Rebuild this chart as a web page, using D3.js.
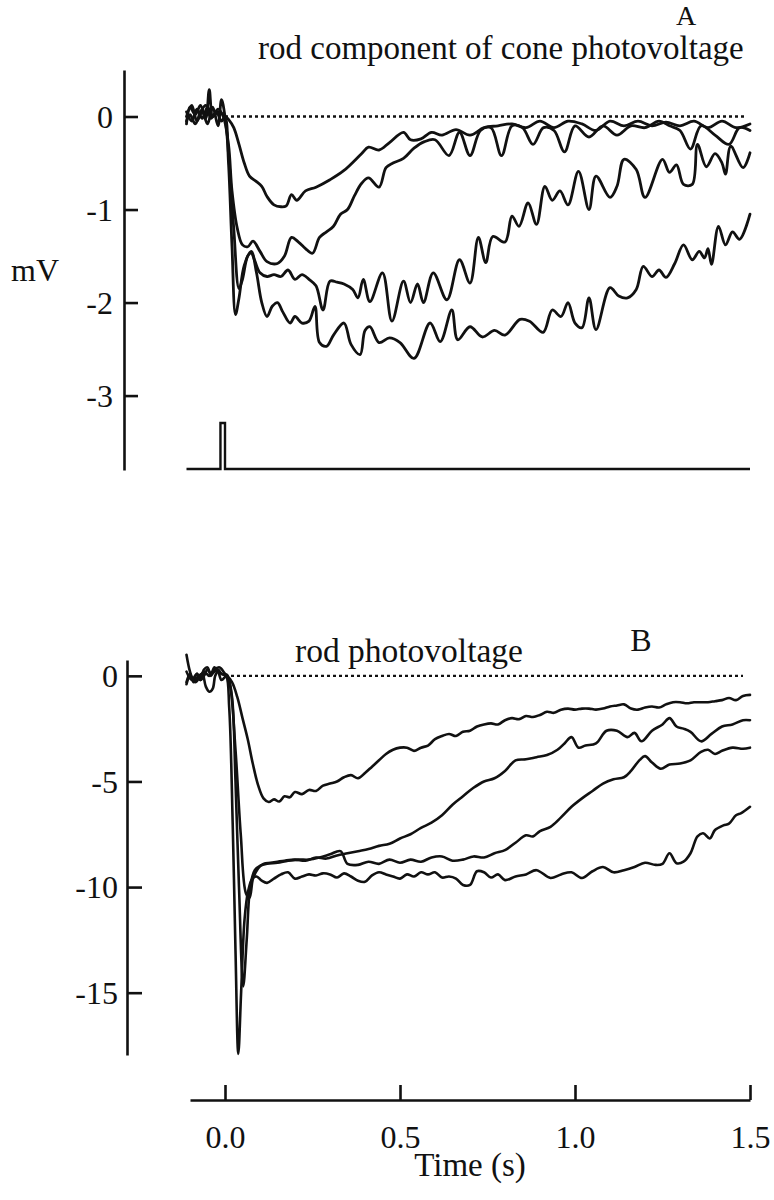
<!DOCTYPE html>
<html><head><meta charset="utf-8">
<script src="https://cdn.jsdelivr.net/npm/d3@7"></script>
<style>
html,body{margin:0;padding:0;background:#fff;}
text{font-family:"Liberation Serif","Times New Roman",serif;fill:#111;}
</style></head>
<body><svg id="c" width="774" height="1200"></svg>
<script>
// ---------- data ----------
const xTicks = [0, 0.5, 1.0, 1.5];
const xTickLabels = ["0.0", "0.5", "1.0", "1.5"];
const yTicksA = [0, -1, -2, -3];
const yTickLabelsA = ["0", "-1", "-2", "-3"];
const yTicksB = [0, -5, -10, -15];
const yTickLabelsB = ["0", "-5", "-10", "-15"];

// stimulus (flash) monitor: [time s, level]
const stimulus = [[-0.11,0],[-0.013,0],[-0.013,1],[0,1],[0,0],[1.5,0]];

// Panel A: rod component of cone photovoltage (mV)
const traceA1 = [[-0.11,0.05],[-0.095,-0.05],[-0.08,0.08],[-0.065,-0.02],[-0.05,0.1],[-0.035,0],[-0.02,0.05],[-0.005,0.02],[0.01,-0.03],[0.025,-0.12],[0.04,-0.3],[0.055,-0.5],[0.07,-0.64],[0.09,-0.7],[0.105,-0.75],[0.12,-0.86],[0.14,-0.95],[0.16,-0.97],[0.175,-0.96],[0.19,-0.84],[0.205,-0.9],[0.23,-0.8],[0.26,-0.76],[0.3,-0.68],[0.34,-0.58],[0.39,-0.4],[0.41,-0.33],[0.44,-0.36],[0.47,-0.28],[0.51,-0.17],[0.53,-0.25],[0.56,-0.24],[0.59,-0.17],[0.62,-0.2],[0.66,-0.14],[0.7,-0.2],[0.74,-0.12],[0.78,-0.1],[0.82,-0.08],[0.86,-0.12],[0.9,-0.05],[0.94,-0.12],[0.98,-0.05],[1.02,-0.08],[1.06,-0.15],[1.1,-0.05],[1.14,-0.1],[1.18,-0.05],[1.22,-0.1],[1.26,-0.06],[1.3,-0.1],[1.34,-0.05],[1.38,-0.12],[1.42,-0.05],[1.46,-0.12],[1.5,-0.08]];
const traceA2 = [[-0.11,-0.08],[-0.1,0.1],[-0.085,0.02],[-0.07,0.12],[-0.055,-0.02],[-0.045,0.29],[-0.035,0.0],[-0.02,0.08],[-0.005,0],[0.01,-0.3],[0.02,-0.8],[0.035,-1.2],[0.05,-1.38],[0.065,-1.4],[0.08,-1.34],[0.1,-1.45],[0.12,-1.56],[0.15,-1.58],[0.17,-1.5],[0.19,-1.3],[0.21,-1.35],[0.23,-1.42],[0.25,-1.47],[0.27,-1.3],[0.29,-1.24],[0.31,-1.18],[0.33,-1.05],[0.35,-1.0],[0.37,-0.85],[0.39,-0.72],[0.41,-0.66],[0.44,-0.76],[0.46,-0.55],[0.48,-0.5],[0.51,-0.45],[0.54,-0.34],[0.57,-0.27],[0.6,-0.25],[0.64,-0.42],[0.67,-0.17],[0.7,-0.42],[0.73,-0.15],[0.76,-0.12],[0.79,-0.42],[0.82,-0.1],[0.85,-0.12],[0.88,-0.3],[0.91,-0.12],[0.94,-0.15],[0.97,-0.38],[1.0,-0.1],[1.04,-0.22],[1.08,-0.1],[1.12,-0.2],[1.16,-0.1],[1.2,-0.12],[1.24,-0.05],[1.27,-0.1],[1.3,-0.15],[1.33,-0.35],[1.36,-0.1],[1.4,-0.2],[1.44,-0.3],[1.47,-0.12],[1.5,-0.15]];
const traceA3 = [[-0.11,0.0],[-0.095,0.12],[-0.08,-0.05],[-0.065,0.05],[-0.05,-0.08],[-0.035,0.1],[-0.02,-0.1],[-0.01,0.18],[0,0],[0.01,-0.4],[0.025,-1.2],[0.04,-1.85],[0.05,-1.75],[0.065,-1.5],[0.075,-1.47],[0.085,-1.55],[0.1,-1.68],[0.12,-1.72],[0.14,-1.7],[0.16,-1.72],[0.18,-1.65],[0.2,-1.75],[0.22,-1.7],[0.24,-1.75],[0.26,-1.82],[0.28,-2.08],[0.3,-1.77],[0.32,-1.78],[0.34,-1.8],[0.365,-1.86],[0.38,-1.95],[0.395,-1.75],[0.414,-1.99],[0.45,-1.68],[0.477,-2.2],[0.51,-1.77],[0.53,-2.0],[0.55,-1.8],[0.567,-2.0],[0.595,-1.68],[0.634,-1.97],[0.67,-1.54],[0.7,-1.79],[0.724,-1.3],[0.745,-1.57],[0.765,-1.29],[0.8,-1.35],[0.82,-1.07],[0.84,-1.18],[0.866,-0.93],[0.89,-1.16],[0.914,-0.75],[0.935,-0.9],[0.957,-0.8],[0.98,-0.95],[1.01,-0.59],[1.04,-1.0],[1.06,-0.64],[1.1,-0.87],[1.12,-0.75],[1.14,-0.46],[1.175,-0.57],[1.2,-0.87],[1.25,-0.46],[1.27,-0.6],[1.29,-0.52],[1.31,-0.73],[1.335,-0.73],[1.35,-0.3],[1.375,-0.54],[1.4,-0.4],[1.42,-0.5],[1.43,-0.62],[1.445,-0.32],[1.48,-0.55],[1.5,-0.39]];
const traceA4 = [[-0.11,-0.05],[-0.1,0.02],[-0.085,-0.08],[-0.07,0.05],[-0.055,0.12],[-0.04,-0.02],[-0.025,0.05],[-0.01,-0.05],[0,0],[0.01,-0.5],[0.02,-1.4],[0.03,-2.13],[0.04,-1.95],[0.055,-1.6],[0.075,-1.45],[0.09,-1.68],[0.105,-2.0],[0.12,-2.15],[0.135,-2.04],[0.15,-2.0],[0.165,-2.1],[0.186,-2.22],[0.2,-2.15],[0.22,-2.22],[0.24,-2.2],[0.257,-2.04],[0.27,-2.43],[0.29,-2.47],[0.31,-2.35],[0.34,-2.22],[0.36,-2.45],[0.386,-2.56],[0.4,-2.3],[0.414,-2.26],[0.44,-2.43],[0.47,-2.38],[0.5,-2.43],[0.54,-2.6],[0.586,-2.22],[0.615,-2.42],[0.648,-2.08],[0.665,-2.4],[0.7,-2.26],[0.735,-2.37],[0.77,-2.3],[0.8,-2.35],[0.843,-2.18],[0.87,-2.2],[0.909,-2.32],[0.935,-2.08],[0.96,-2.15],[0.98,-2.0],[1.0,-2.22],[1.02,-2.27],[1.04,-1.95],[1.06,-2.29],[1.1,-1.84],[1.125,-1.93],[1.15,-1.95],[1.175,-1.86],[1.195,-1.61],[1.22,-1.72],[1.24,-1.65],[1.26,-1.73],[1.285,-1.58],[1.31,-1.38],[1.335,-1.54],[1.355,-1.45],[1.37,-1.52],[1.38,-1.42],[1.39,-1.59],[1.41,-1.18],[1.43,-1.38],[1.45,-1.24],[1.47,-1.32],[1.5,-1.05]];

// Panel B: rod photovoltage (mV)
const traceB1 = [[-0.11,1.0],[-0.1,0.2],[-0.09,-0.2],[-0.08,0.1],[-0.07,-0.2],[-0.06,0.0],[-0.05,0.3],[-0.04,0.1],[-0.03,0.4],[-0.02,0.2],[-0.01,0.1],[0.005,0],[0.02,-0.3],[0.035,-1.0],[0.05,-2.0],[0.065,-3.0],[0.08,-4.2],[0.095,-5.2],[0.11,-5.8],[0.125,-5.97],[0.14,-5.85],[0.155,-5.95],[0.17,-5.7],[0.185,-5.75],[0.2,-5.5],[0.22,-5.6],[0.24,-5.4],[0.26,-5.45],[0.28,-5.2],[0.3,-5.1],[0.32,-5.0],[0.34,-4.8],[0.36,-4.7],[0.38,-4.85],[0.4,-4.6],[0.42,-4.3],[0.44,-4.0],[0.46,-3.7],[0.48,-3.5],[0.5,-3.4],[0.52,-3.4],[0.54,-3.55],[0.56,-3.4],[0.58,-3.3],[0.6,-3.0],[0.62,-2.85],[0.64,-2.75],[0.66,-2.85],[0.68,-2.65],[0.7,-2.6],[0.72,-2.4],[0.74,-2.3],[0.76,-2.25],[0.78,-2.3],[0.8,-2.1],[0.82,-2.0],[0.84,-2.05],[0.86,-1.9],[0.88,-1.95],[0.9,-1.85],[0.92,-1.7],[0.94,-1.75],[0.96,-1.6],[0.98,-1.55],[1.0,-1.6],[1.02,-1.55],[1.04,-1.55],[1.06,-1.6],[1.08,-1.55],[1.1,-1.45],[1.12,-1.4],[1.14,-1.35],[1.16,-1.55],[1.18,-1.6],[1.2,-1.5],[1.22,-1.45],[1.24,-1.5],[1.26,-1.35],[1.28,-1.25],[1.3,-1.25],[1.32,-1.3],[1.34,-1.25],[1.36,-1.25],[1.38,-1.25],[1.4,-1.2],[1.42,-1.15],[1.44,-1.05],[1.46,-1.15],[1.48,-0.95],[1.5,-0.9]];
const traceB2 = [[-0.11,-0.3],[-0.1,0.1],[-0.09,-0.3],[-0.08,-0.1],[-0.065,0.1],[-0.055,-0.5],[-0.045,-0.75],[-0.035,-0.6],[-0.028,0.0],[-0.02,0.2],[-0.01,-0.2],[0.005,0],[0.015,-0.5],[0.03,-3.5],[0.045,-7.5],[0.06,-10.3],[0.07,-10.5],[0.08,-9.6],[0.095,-9.1],[0.11,-8.9],[0.13,-8.85],[0.15,-8.8],[0.17,-8.75],[0.2,-8.7],[0.23,-8.75],[0.26,-8.6],[0.29,-8.65],[0.32,-8.5],[0.35,-8.4],[0.38,-8.3],[0.41,-8.2],[0.44,-8.05],[0.47,-7.95],[0.5,-7.7],[0.53,-7.5],[0.56,-7.2],[0.59,-6.95],[0.62,-6.6],[0.65,-6.1],[0.68,-5.7],[0.71,-5.3],[0.74,-5.0],[0.77,-4.85],[0.8,-4.5],[0.83,-4.0],[0.86,-3.95],[0.89,-3.85],[0.92,-3.75],[0.95,-3.5],[0.97,-3.2],[0.99,-2.9],[1.01,-3.4],[1.03,-3.3],[1.06,-3.2],[1.09,-2.6],[1.12,-2.6],[1.15,-2.9],[1.17,-2.7],[1.19,-3.1],[1.22,-2.6],[1.25,-2.3],[1.27,-2.0],[1.29,-2.4],[1.31,-2.5],[1.33,-2.65],[1.36,-3.1],[1.39,-2.75],[1.42,-2.4],[1.45,-2.3],[1.48,-2.1],[1.5,-2.1]];
const traceB3 = [[-0.11,0.2],[-0.095,-0.2],[-0.08,0.1],[-0.07,-0.2],[-0.06,0.3],[-0.05,0.4],[-0.04,0.0],[-0.03,0.3],[-0.015,0.4],[0,0.1],[0.008,0],[0.02,-1.0],[0.03,-5.0],[0.04,-10.0],[0.052,-14.7],[0.062,-12.5],[0.072,-10.0],[0.085,-9.2],[0.1,-9.0],[0.12,-8.9],[0.15,-8.85],[0.18,-8.75],[0.21,-8.7],[0.24,-8.7],[0.27,-8.6],[0.3,-8.45],[0.33,-8.3],[0.35,-8.9],[0.38,-8.95],[0.41,-8.8],[0.44,-8.9],[0.47,-8.7],[0.5,-8.85],[0.53,-8.7],[0.56,-8.8],[0.59,-8.6],[0.62,-8.55],[0.65,-8.75],[0.68,-8.7],[0.71,-8.55],[0.74,-8.6],[0.77,-8.4],[0.8,-8.25],[0.83,-7.9],[0.86,-7.55],[0.88,-7.6],[0.9,-7.35],[0.93,-7.15],[0.96,-6.7],[0.99,-6.2],[1.02,-5.8],[1.05,-5.45],[1.08,-5.1],[1.11,-4.9],[1.14,-4.8],[1.16,-4.5],[1.185,-3.98],[1.2,-3.8],[1.22,-4.1],[1.245,-4.4],[1.27,-4.2],[1.3,-4.15],[1.33,-4.0],[1.36,-3.6],[1.38,-3.5],[1.4,-3.7],[1.42,-3.55],[1.45,-3.4],[1.48,-3.45],[1.5,-3.4]];
const traceB4 = [[-0.11,-0.4],[-0.1,0.0],[-0.085,-0.3],[-0.07,0.0],[-0.06,0.2],[-0.045,0.0],[-0.03,0.2],[-0.02,0.3],[-0.01,0.1],[0.003,0],[0.012,-1.5],[0.022,-7.0],[0.03,-13.0],[0.038,-17.9],[0.046,-15.0],[0.056,-11.5],[0.066,-10.2],[0.078,-9.6],[0.09,-9.5],[0.105,-9.7],[0.12,-9.8],[0.14,-9.6],[0.16,-9.4],[0.18,-9.3],[0.2,-9.6],[0.22,-9.5],[0.24,-9.4],[0.26,-9.45],[0.28,-9.35],[0.3,-9.4],[0.32,-9.55],[0.34,-9.35],[0.36,-9.5],[0.38,-9.7],[0.4,-9.75],[0.42,-9.45],[0.44,-9.3],[0.46,-9.4],[0.48,-9.5],[0.5,-9.6],[0.52,-9.4],[0.54,-9.5],[0.56,-9.3],[0.58,-9.4],[0.6,-9.3],[0.62,-9.55],[0.64,-9.5],[0.66,-9.6],[0.68,-9.9],[0.7,-9.9],[0.72,-9.25],[0.74,-9.3],[0.76,-9.55],[0.78,-9.4],[0.8,-9.67],[0.83,-9.5],[0.86,-9.4],[0.89,-9.2],[0.93,-9.57],[0.96,-9.4],[0.99,-9.3],[1.02,-9.57],[1.05,-9.25],[1.08,-9.05],[1.11,-9.3],[1.14,-9.2],[1.17,-9.05],[1.2,-8.85],[1.23,-8.95],[1.25,-8.9],[1.27,-8.4],[1.29,-8.87],[1.31,-8.8],[1.33,-8.4],[1.35,-7.6],[1.366,-7.45],[1.385,-7.7],[1.4,-7.3],[1.424,-7.08],[1.44,-7.0],[1.46,-6.6],[1.475,-6.5],[1.5,-6.2]];

const tracesA = [traceA1, traceA2, traceA3, traceA4];
const tracesB = [traceB1, traceB2, traceB3, traceB4];

// ---------- drawing ----------
const svg = d3.select("#c");
const x = d3.scaleLinear().domain([-0.1, 1.5]).range([190, 750]);
const yA = d3.scaleLinear().domain([0.5, -3.8]).range([70, 470]);
const yB = d3.scaleLinear().domain([0.75, -17.95]).range([660, 1055]);
const yS = d3.scaleLinear().domain([0, 1]).range([469, 423]);

function styleAxis(g) {
  g.selectAll("path,line").attr("stroke", "#111").attr("stroke-width", 2.6);
  g.selectAll("text").attr("font-size", 32).attr("font-family", '"Liberation Serif",serif').attr("fill", "#111");
}

// Panel A axis
const axA = svg.append("g").attr("transform", "translate(124,0)")
  .call(d3.axisLeft(yA).tickValues(yTicksA).tickFormat((d, i) => yTickLabelsA[i])
    .tickSizeInner(-14).tickSizeOuter(0).tickPadding(11));
styleAxis(axA);
axA.selectAll("text").attr("dy", "0.34em");

// Panel B axis
const axB = svg.append("g").attr("transform", "translate(127,0)")
  .call(d3.axisLeft(yB).tickValues(yTicksB).tickFormat((d, i) => yTickLabelsB[i])
    .tickSizeInner(-15).tickSizeOuter(0).tickPadding(9));
styleAxis(axB);
axB.selectAll("text").attr("dy", "0.34em");

// X axis
const axX = svg.append("g").attr("transform", "translate(0,1100)")
  .call(d3.axisBottom(x).tickValues(xTicks).tickFormat((d, i) => xTickLabels[i])
    .tickSizeInner(-15).tickSizeOuter(0).tickPadding(25));
styleAxis(axX);

// dotted zero lines
svg.append("line").attr("x1", x(0)).attr("x2", x(1.49)).attr("y1", yA(0)).attr("y2", yA(0))
  .attr("stroke", "#111").attr("stroke-width", 2.4).attr("stroke-dasharray", "3,3");
svg.append("line").attr("x1", x(0)).attr("x2", x(1.48)).attr("y1", yB(0)).attr("y2", yB(0))
  .attr("stroke", "#111").attr("stroke-width", 2.4).attr("stroke-dasharray", "3,3");

const curve = d3.curveCatmullRom.alpha(0.5);
const lineA = d3.line().x(d => x(d[0])).y(d => yA(d[1])).curve(curve);
const lineB = d3.line().x(d => x(d[0])).y(d => yB(d[1])).curve(curve);
const lineS = d3.line().x(d => x(d[0])).y(d => yS(d[1]));

svg.append("g").selectAll("path").data(tracesA).join("path")
  .attr("d", lineA).attr("fill", "none").attr("stroke", "#111").attr("stroke-width", 2.8)
  .attr("stroke-linejoin", "round").attr("stroke-linecap", "round");
svg.append("g").selectAll("path").data(tracesB).join("path")
  .attr("d", lineB).attr("fill", "none").attr("stroke", "#111").attr("stroke-width", 2.6)
  .attr("stroke-linejoin", "round").attr("stroke-linecap", "round");
svg.append("path").datum(stimulus).attr("d", lineS).attr("fill", "none")
  .attr("stroke", "#111").attr("stroke-width", 2.4);

// texts
const T = (s, xx, yy, anchor, fs) => svg.append("text").attr("x", xx).attr("y", yy)
  .attr("font-size", fs || 32).attr("text-anchor", anchor || "start").text(s);
T("A", 686, 25, "middle", 28);
T("rod component of cone photovoltage", 258, 59, "start", 33);
T("mV", 35, 281, "middle");
T("B", 641, 651, "middle");
T("rod photovoltage", 295, 662, "start", 33.5);
T("Time (s)", 470, 1176, "middle", 33);
</script></body></html>
